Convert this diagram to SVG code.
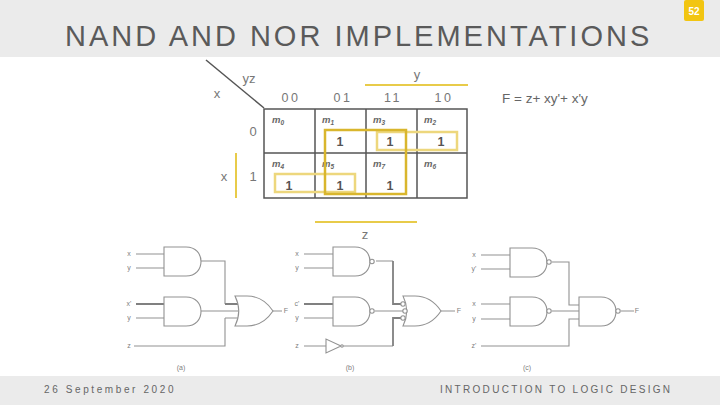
<svg xmlns="http://www.w3.org/2000/svg" width="720" height="405" viewBox="0 0 720 405">
<style>
text{font-family:"Liberation Sans",Arial,sans-serif;fill:#666}
.g{fill:#fff;stroke:#929292;stroke-width:1.100}
.w{fill:none;stroke:#929292;stroke-width:1.100}
.t{fill:none;stroke:#808080;stroke-width:1.800}
.lab{font-size:7px;fill:#808080;text-anchor:middle}
.hd{font-size:12.500px;text-anchor:middle;letter-spacing:2.500px;fill:#777}
.m{font-size:9.500px;font-style:italic;font-weight:bold;fill:#666}
.one{font-size:12.500px;font-weight:bold;text-anchor:middle;fill:#555}
.kl{font-size:13px;text-anchor:middle;fill:#777}
.grid{fill:none;stroke:#555;stroke-width:1.500}
</style>
<defs>
<path id="and" d="M0 0H22C32 0 37 7 37 14.500C37 22 32 29 22 29H0Z"/>
<path id="or" d="M0 0H12C24 0 32 6 38 15C32 24 24 30 12 30H0C5 20 5 10 0 0Z"/>
</defs>
<rect id="page" width="720" height="405" fill="#fff"/>
<rect id="header-bar" width="720" height="57" fill="#ebebeb"/>
<rect id="footer-bar" y="376" width="720" height="29" fill="#ebebeb"/>
<text id="title" x="65" y="46" font-size="29" letter-spacing="3" style="fill:#5a5a5a">NAND AND NOR IMPLEMENTATIONS</text>
<g id="badge"><rect x="684" y="0" width="20" height="21" rx="2" fill="#f2c511"/><text x="694" y="15" font-size="10" font-weight="bold" text-anchor="middle" style="fill:#fff">52</text></g>
<text id="date" x="44" y="393" font-size="10" letter-spacing="2.600">26 September 2020</text>
<text id="course" x="440" y="393" font-size="10" letter-spacing="2.300">INTRODUCTION TO LOGIC DESIGN</text>
<g id="kmap">
<path d="M206 60L264 108" stroke="#555" stroke-width="1.500" fill="none"/>
<path class="grid" d="M264 109H467V198H264ZM264 153H467M315 109V198M366 109V198M417 109V198"/>
<path d="M365 85H468M236 153V198M315 222H417" stroke="#e8cb4a" stroke-width="2" fill="none"/>
<text class="kl" x="249" y="83">yz</text><text class="kl" x="217" y="98">x</text><text class="kl" x="417" y="79">y</text>
<text class="hd" x="291" y="102">00</text><text class="hd" x="343" y="102">01</text><text class="hd" x="393" y="102">11</text><text class="hd" x="444" y="102">10</text>
<text class="kl" x="253" y="136">0</text><text class="kl" x="253" y="181">1</text><text class="kl" x="224" y="181">x</text><text class="kl" x="365" y="239">z</text>
<text class="m" x="272" y="123">m<tspan font-size="6.500" dy="2">0</tspan></text><text class="m" x="322" y="123">m<tspan font-size="6.500" dy="2">1</tspan></text><text class="m" x="373" y="123">m<tspan font-size="6.500" dy="2">3</tspan></text><text class="m" x="424" y="123">m<tspan font-size="6.500" dy="2">2</tspan></text>
<text class="m" x="272" y="167">m<tspan font-size="6.500" dy="2">4</tspan></text><text class="m" x="322" y="167">m<tspan font-size="6.500" dy="2">5</tspan></text><text class="m" x="373" y="167">m<tspan font-size="6.500" dy="2">7</tspan></text><text class="m" x="424" y="167">m<tspan font-size="6.500" dy="2">6</tspan></text>
<text class="one" x="340" y="146">1</text><text class="one" x="390" y="146">1</text><text class="one" x="441" y="146">1</text>
<text class="one" x="289" y="190">1</text><text class="one" x="340" y="190">1</text><text class="one" x="390" y="190">1</text>
<rect x="377" y="132" width="80" height="18" fill="none" stroke="#edd77d" stroke-width="2.500"/>
<rect x="275" y="174" width="80" height="18" fill="none" stroke="#edd77d" stroke-width="2.500"/>
<rect x="325" y="130" width="81" height="64" fill="none" stroke="#d9b62d" stroke-width="2.500"/>
</g>
<text id="eqn" x="502" y="103" font-size="13.500">F = z+ xy'+ x'y</text>
<g id="connectors">
<path class="w" d="M136 254H164M136 268H164M136 318H164M134 346H225V318M201 261H225V304M201 311H240M225 318H240M272 311H282"/>
<path class="t" d="M136 304H164M225 304H239"/>
<path class="w" d="M304 254H333M304 268H333M304 318H333M304 346H326M342 346H393M376 261H393M375 311H403M440 311H455"/>
<path class="t" d="M304 304H333M393 261V304H401M393 346V318H401"/>
<path class="w" d="M481 255H510M481 269H510M481 304H510M481 319H510M481 346H569V319H579M552 262H569V305H579M552 311H579M621 311H634"/>
</g>
<g id="circuit-a">
<use href="#and" class="g" x="164" y="247"/><use href="#and" class="g" x="164" y="297"/><use href="#or" class="g" x="235" y="296"/>
<text class="lab" x="129" y="256">x</text><text class="lab" x="129" y="270">y</text><text class="lab" x="129" y="306">x'</text><text class="lab" x="129" y="320">y</text><text class="lab" x="129" y="348">z</text><text class="lab" x="286" y="313">F</text><text class="lab" x="181" y="370">(a)</text>
</g>
<g id="circuit-b">
<use href="#and" class="g" x="333" y="247"/><circle class="g" cx="372" cy="261.500" r="2.200"/>
<use href="#and" class="g" x="333" y="297"/><circle class="g" cx="372" cy="311" r="2.200"/>
<path class="g" d="M326 339V353L341 346Z"/><circle class="g" cx="342" cy="346" r="1.200"/>
<use href="#or" class="g" x="403" y="296"/><circle class="g" cx="403" cy="304" r="2.200"/><circle class="g" cx="405" cy="311" r="2.200"/><circle class="g" cx="403" cy="318" r="2.200"/>
<text class="lab" x="297" y="256">x</text><text class="lab" x="297" y="270">y</text><text class="lab" x="297" y="306">c'</text><text class="lab" x="297" y="320">y</text><text class="lab" x="297" y="348">z</text><text class="lab" x="459" y="313">F</text><text class="lab" x="350" y="370">(b)</text>
</g>
<g id="circuit-c">
<use href="#and" class="g" x="510" y="248"/><circle class="g" cx="549" cy="262" r="2.200"/>
<use href="#and" class="g" x="510" y="297"/><circle class="g" cx="549" cy="311" r="2.200"/>
<use href="#and" class="g" x="579" y="297"/><circle class="g" cx="618" cy="311" r="2.200"/>
<text class="lab" x="474" y="257">x</text><text class="lab" x="474" y="271">y'</text><text class="lab" x="474" y="306">x</text><text class="lab" x="474" y="321">y</text><text class="lab" x="474" y="348">z'</text><text class="lab" x="637" y="313">F</text><text class="lab" x="527" y="370">(c)</text>
</g>
</svg>
